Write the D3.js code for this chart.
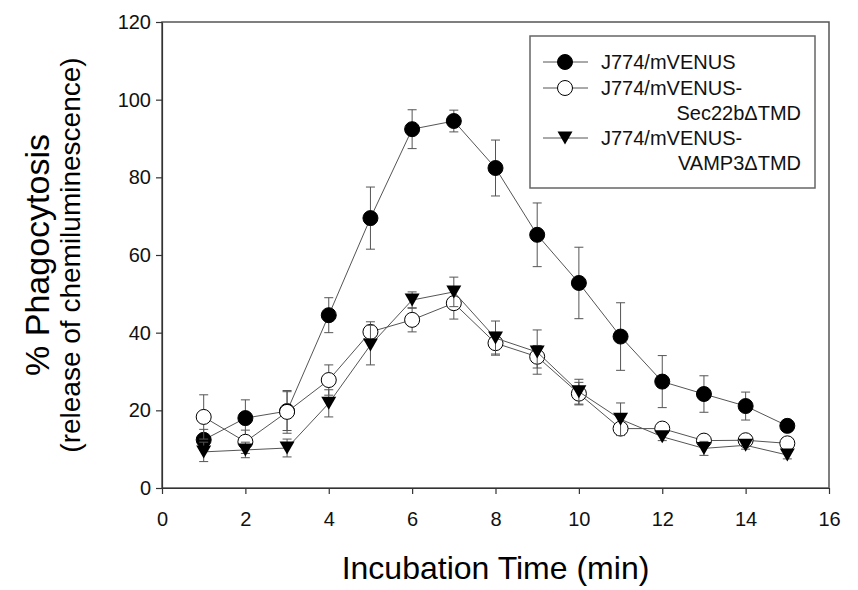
<!DOCTYPE html>
<html lang="en">
<head>
<meta charset="utf-8">
<title>Phagocytosis time course</title>
<script src="https://cdnjs.cloudflare.com/ajax/libs/d3/7.8.5/d3.min.js"></script>
<style>
body { margin: 0; background: #fff; }
svg { font-family: "Liberation Sans", Arial, sans-serif; }
.frame { fill: none; stroke: #555; stroke-width: 1.5; }
.axis path, .axis line { stroke: #333; stroke-width: 1.2; }
.axis text { font-size: 20px; fill: #111; }
.link { fill: none; stroke: #555; stroke-width: 1; }
.err { stroke: #555; stroke-width: 1; }
.legend-box { fill: #fff; stroke: #666; stroke-width: 1.5; }
.legend-text { font-size: 20px; fill: #111; }
</style>
</head>
<body>
<div id="chart"></div>
<script>

const w = 858;
const h = 590;

// incubation times (min)
const times = [1, 2, 3, 4, 5, 6, 7, 8, 9, 10, 11, 12, 13, 14, 15];

// J774/mVENUS
const venus = [12.4, 18, 19.8, 44.5, 69.5, 92.4, 94.5, 82.4, 65.2, 52.8, 39, 27.4, 24.2, 21.1, 16];
const venusErr = [2.7, 4.7, 5, 4.5, 8, 5, 2.8, 7.2, 8.2, 9.2, 8.7, 6.7, 4.7, 3.6, 1];

// J774/mVENUS-Sec22bΔTMD
const sec22b = [18.3, 11.9, 19.6, 27.8, 40.2, 43.3, 47.6, 37.3, 33.8, 24.3, 15.3, 15.3, 12.2, 12.3, 11.5];
const sec22bErr = [5.7, 3, 5.5, 3.9, 2.6, 3.1, 4.1, 2.8, 2.9, 2.9, 1, 1, 1, 1, 1];

// J774/mVENUS-VAMP3ΔTMD
const vamp3 = [9.3, 9.8, 10.3, 21.8, 36.8, 48.4, 50.5, 38.6, 35, 24.8, 17.7, 13.2, 10.2, 11, 8.5];
const vamp3Err = [2.5, 2, 2.3, 3.5, 5.1, 2.1, 3.8, 4.4, 5.7, 3.2, 4.2, 1, 1.8, 1, 1];

const xTicks = [0, 2, 4, 6, 8, 10, 12, 14, 16];
const yTicks = [0, 20, 40, 60, 80, 100, 120];

const series = [
   { lines: ["J774/mVENUS"], values: venus, err: venusErr, symbol: "dot" },
   { lines: ["J774/mVENUS-", "Sec22b\u0394TMD"], values: sec22b, err: sec22bErr, symbol: "ring" },
   { lines: ["J774/mVENUS-", "VAMP3\u0394TMD"], values: vamp3, err: vamp3Err, symbol: "tri" }
];

const pLeft = 162, pRight = 829, pTop = 22, pBottom = 488;

const xScale = d3.scaleLinear().domain([0, 16]).range([pLeft, pRight]);
const yScale = d3.scaleLinear().domain([0, 120]).range([pBottom, pTop]);

const svg = d3.select("#chart")
   .append("svg")
   .attr("width", w)
   .attr("height", h);

// plot frame
svg.append("rect")
   .attr("class", "frame")
   .attr("x", pLeft)
   .attr("y", pTop)
   .attr("width", pRight - pLeft)
   .attr("height", pBottom - pTop);

svg.append("g")
   .attr("class", "axis")
   .attr("transform", "translate(0," + pBottom + ")")
   .call(d3.axisBottom(xScale).tickValues(xTicks).tickSize(6).tickPadding(18).tickSizeOuter(0));

svg.append("g")
   .attr("class", "axis")
   .attr("transform", "translate(" + pLeft + ",0)")
   .call(d3.axisLeft(yScale).tickValues(yTicks).tickSize(6).tickPadding(5).tickSizeOuter(0));

// draw one marker at (x, y)
function marker(g, type, x, y) {
   if (type === "tri") {
      const r = 7.5;
      g.append("path")
         .attr("d", `M${x - r},${y - 6.5}L${x + r},${y - 6.5}L${x},${y + 6.5}Z`)
         .attr("fill", "#000");
   } else {
      g.append("circle")
         .attr("cx", x)
         .attr("cy", y)
         .attr("r", 7.5)
         .attr("fill", type === "dot" ? "#000" : "#fff")
         .attr("stroke", "#000")
         .attr("stroke-width", 1);
   }
}

const line = d3.line()
   .x(d => xScale(d.t))
   .y(d => yScale(d.v));

series.forEach(s => {
   const pts = times.map((t, i) => ({ t: t, v: s.values[i], e: s.err[i] }));
   const g = svg.append("g");

   g.selectAll(".err")
      .data(pts)
      .enter()
      .append("path")
      .attr("class", "err")
      .attr("fill", "none")
      .attr("d", d => {
         const x = xScale(d.t), y1 = yScale(d.v + d.e), y0 = yScale(d.v - d.e);
         return `M${x},${y0}V${y1}M${x - 4.5},${y1}H${x + 4.5}M${x - 4.5},${y0}H${x + 4.5}`;
      });

   g.append("path")
      .datum(pts)
      .attr("class", "link")
      .attr("d", line);

   pts.forEach(d => marker(g, s.symbol, xScale(d.t), yScale(d.v)));
});

// legend
const lg = svg.append("g");
lg.append("rect")
   .attr("class", "legend-box")
   .attr("x", 530)
   .attr("y", 36)
   .attr("width", 285)
   .attr("height", 152);

const rowY = [62, 88, 138];
series.forEach((s, i) => {
   const y = rowY[i];
   lg.append("line")
      .attr("x1", 543).attr("x2", 588)
      .attr("y1", y).attr("y2", y)
      .attr("stroke", "#555").attr("stroke-width", 1);
   marker(lg, s.symbol, 565, y);
   lg.append("text")
      .attr("class", "legend-text")
      .attr("x", 601)
      .attr("y", y)
      .attr("dy", "0.35em")
      .text(s.lines[0]);
   if (s.lines[1]) {
      lg.append("text")
         .attr("class", "legend-text")
         .attr("x", 801)
         .attr("y", y + 25)
         .attr("dy", "0.35em")
         .attr("text-anchor", "end")
         .text(s.lines[1]);
   }
});

// axis titles
svg.append("text")
   .attr("x", (pLeft + pRight) / 2)
   .attr("y", 579)
   .attr("text-anchor", "middle")
   .style("font-size", "32px")
   .text("Incubation Time (min)");

const yt = svg.append("text")
   .attr("transform", "translate(49," + (pTop + pBottom) / 2 + ") rotate(-90)")
   .attr("text-anchor", "middle");
yt.append("tspan").attr("x", 0).attr("y", 0).style("font-size", "34px").text("% Phagocytosis");
yt.append("tspan").attr("x", 0).attr("y", 31).style("font-size", "28px").text("(release of chemiluminescence)");

</script>
</body>
</html>
